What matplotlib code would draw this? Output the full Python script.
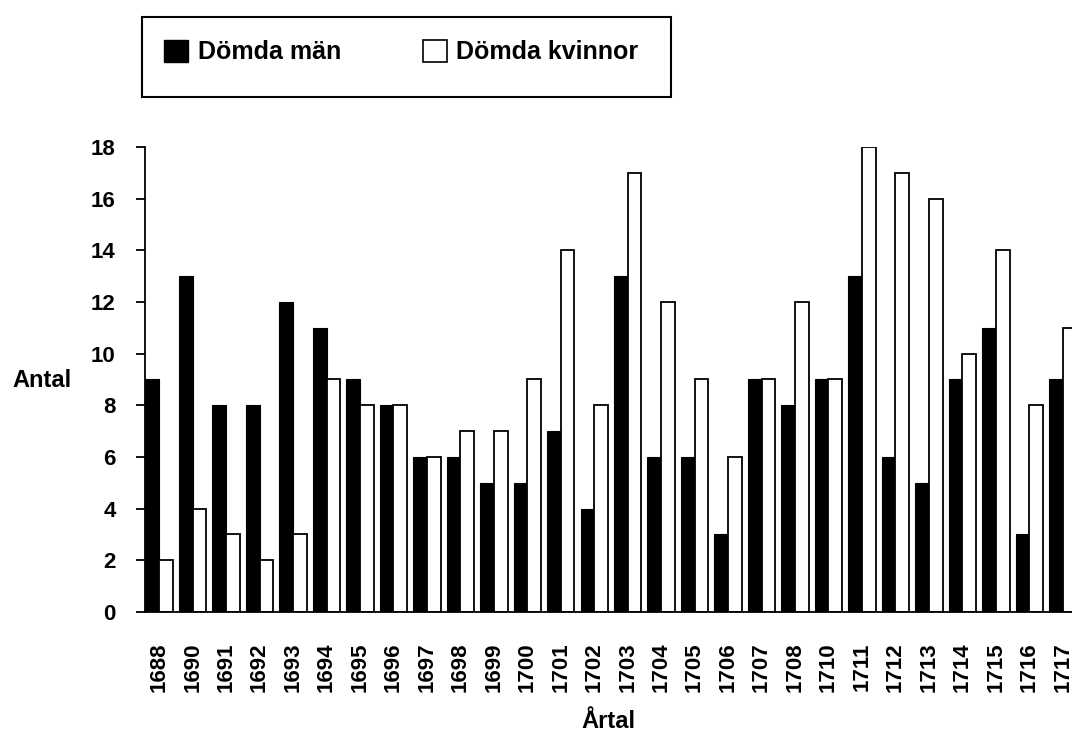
import matplotlib
matplotlib.use('Agg')
import matplotlib.pyplot as plt
import matplotlib.patches as mpatches
import numpy as np

# data
years = ['1688', '1690', '1691', '1692', '1693', '1694', '1695', '1696', '1697', '1698',
         '1699', '1700', '1701', '1702', '1703', '1704', '1705', '1706', '1707', '1708',
         '1710', '1711', '1712', '1713', '1714', '1715', '1716', '1717']
men = [9, 13, 8, 8, 12, 11, 9, 8, 6, 6, 5, 5, 7, 4, 13, 6, 6, 3, 9, 8, 9, 13, 6, 5, 9, 11, 3, 9]
women = [2, 4, 3, 2, 3, 9, 8, 8, 6, 7, 7, 9, 14, 8, 17, 12, 9, 6, 9, 12, 9, 18, 17, 16, 10, 14, 8, 11]

plt.rcParams['font.family'] = ['Liberation Sans', 'DejaVu Sans']
plt.rcParams['font.weight'] = 'bold'

fig = plt.figure(figsize=(10.72, 7.31), dpi=100)
ax = fig.add_axes([0.1357, 0.1628, 0.8643, 0.6361])

x = np.arange(len(years))
w = 0.41
ax.bar(x - w / 2, men, w, color='black', edgecolor='black', linewidth=0.8)
ax.bar(x + w / 2, women, w, color='white', edgecolor='black', linewidth=1.3)

ax.set_xlim(-0.41, 27.277)
ax.set_ylim(0, 18)
ax.set_yticks(range(0, 19, 2))
ax.set_xticks(x)
ax.set_xticklabels(years, rotation=90, fontsize=16, fontweight='bold', va='top')
ax.tick_params(axis='x', length=0, pad=22)
ax.tick_params(axis='y', length=6.5, width=1.3, pad=15, labelsize=16, direction='out')
for t in ax.get_yticklabels():
    t.set_fontweight('bold')

for s in ['top', 'right']:
    ax.spines[s].set_visible(False)
ax.spines['left'].set_linewidth(1.3)
ax.spines['bottom'].set_linewidth(1.3)

ax.set_ylabel('Antal', rotation=0, fontsize=17, fontweight='bold', ha='right', va='baseline')
ax.yaxis.set_label_coords(-0.080, 0.484)
ax.set_xlabel('Årtal', fontsize=17, fontweight='bold', va='baseline')
ax.xaxis.set_label_coords(0.5, -0.2495)

# legend: frame drawn separately, entries placed with fig.legend
frame = mpatches.Rectangle((142 / 1072, 1 - 97 / 731), 529 / 1072, 80 / 731,
                           transform=fig.transFigure, facecolor='white',
                           edgecolor='black', linewidth=1.5)
fig.patches.append(frame)

handles = [mpatches.Patch(facecolor='black', edgecolor='black', label='Dömda män'),
           mpatches.Patch(facecolor='white', edgecolor='black', linewidth=1.2, label='Dömda kvinnor')]
fig.legend(handles=handles, loc='center left', bbox_to_anchor=(164 / 1072, 1 - 52 / 731), ncol=2,
           frameon=False, borderpad=0, borderaxespad=0, columnspacing=3.25,
           handlelength=0.96, handleheight=0.96, handletextpad=0.4,
           prop={'size': 18, 'weight': 'bold'})

fig.savefig('out.png', dpi=100)
